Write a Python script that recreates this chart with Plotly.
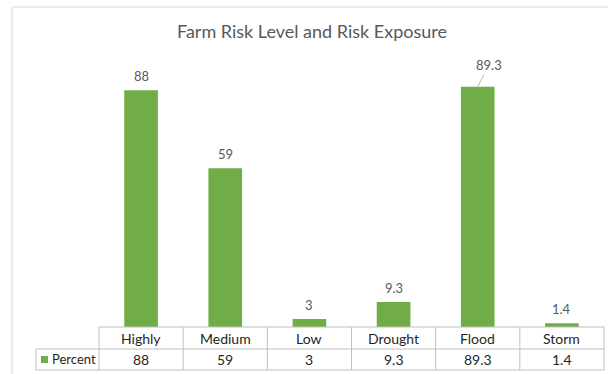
import plotly.graph_objects as go

# Chart data
categories = ["Highly", "Medium", "Low", "Drought", "Flood", "Storm"]
percent = [88, 59, 3, 9.3, 89.3, 1.4]
value_labels = ["88", "59", "3", "9.3", "89.3", "1.4"]
series_name = "Percent"
title_text = "Farm Risk Level and Risk Exposure"

W, H = 608, 374
ML, MR, MT, MB = 99, 4, 58, 47
plot_w = W - ML - MR
plot_h = H - MT - MB

GREEN = "#70AD47"
LABEL = "#595959"
GRID = "#BFBFBF"
BORDER = "#D9D9D9"
TEXT = "#1F1F1F"
FONT = "Lato, 'Open Sans', sans-serif"


def px_x(x):
    return (x - ML) / plot_w


def px_y(y):
    return (H - MB - y) / plot_h


fig = go.Figure()
fig.add_trace(go.Bar(
    x=categories, y=percent, name=series_name,
    marker=dict(color=GREEN, line=dict(width=0)),
    hoverinfo="x+y",
))

annotations = []
shapes = []

# Value labels above the bars; the Flood label sits off to the side with a leader line
for cat, val, lab in zip(categories, percent, value_labels):
    if cat == "Flood":
        annotations.append(dict(
            x=cat, y=val, xref="x", yref="y", text=lab, showarrow=True,
            arrowhead=0, arrowwidth=0.8, arrowcolor="#A6A6A6",
            ax=11, ay=-22, standoff=0,
            font=dict(family=FONT, size=13, color=LABEL),
        ))
    else:
        annotations.append(dict(
            x=cat, y=val, xref="x", yref="y", text=lab, showarrow=False,
            yanchor="middle", yshift=14,
            font=dict(family=FONT, size=13, color=LABEL),
        ))

# Data table rows below the axis
row1_top, row1_bot, row2_bot = 327, 349, 370
row1_mid = (row1_top + row1_bot) / 2
row2_mid = (row1_bot + row2_bot) / 2
n = len(categories)
for cat, lab in zip(categories, value_labels):
    annotations.append(dict(
        x=cat, y=px_y(row1_mid), xref="x", yref="paper", text=cat,
        showarrow=False, yanchor="middle",
        font=dict(family=FONT, size=14, color=TEXT),
    ))
    annotations.append(dict(
        x=cat, y=px_y(row2_mid), xref="x", yref="paper", text=lab,
        showarrow=False, yanchor="middle",
        font=dict(family=FONT, size=14, color=TEXT),
    ))

# Legend key cell
annotations.append(dict(
    x=px_x(50), y=px_y(row2_mid), xref="paper", yref="paper", text=series_name,
    showarrow=False, xanchor="left", yanchor="middle",
    font=dict(family=FONT, size=13, color=TEXT),
))
shapes.append(dict(
    type="rect", xref="paper", yref="paper",
    x0=px_x(41), x1=px_x(48), y0=px_y(356), y1=px_y(363),
    fillcolor=GREEN, line=dict(width=0),
))

line = dict(color=GRID, width=1)
# Horizontal table rules
shapes.append(dict(type="line", xref="paper", yref="paper",
                   x0=0, x1=1, y0=px_y(row1_top), y1=px_y(row1_top), line=line))
for yy in (row1_bot, row2_bot):
    shapes.append(dict(type="line", xref="paper", yref="paper",
                       x0=px_x(36), x1=1, y0=px_y(yy), y1=px_y(yy), line=line))
# Vertical table rules
shapes.append(dict(type="line", xref="paper", yref="paper",
                   x0=px_x(36), x1=px_x(36), y0=px_y(row1_bot), y1=px_y(row2_bot), line=line))
for k in range(n + 1):
    shapes.append(dict(type="line", xref="paper", yref="paper",
                       x0=k / n, x1=k / n, y0=px_y(row1_top), y1=px_y(row2_bot), line=line))

# Outer chart border (top and left edges)
shapes.append(dict(type="line", xref="paper", yref="paper",
                   x0=px_x(12), x1=px_x(W + 5), y0=px_y(7), y1=px_y(7),
                   line=dict(color=BORDER, width=1)))
shapes.append(dict(type="line", xref="paper", yref="paper",
                   x0=px_x(12), x1=px_x(12), y0=px_y(7), y1=px_y(H + 5),
                   line=dict(color=BORDER, width=1)))

# Title
annotations.append(dict(
    x=px_x(312), y=px_y(31), xref="paper", yref="paper", text=title_text,
    showarrow=False, xanchor="center", yanchor="middle",
    font=dict(family=FONT, size=18, color=LABEL),
))

fig.update_layout(
    width=W, height=H,
    margin=dict(l=ML, r=MR, t=MT, b=MB, pad=0),
    paper_bgcolor="white", plot_bgcolor="white",
    showlegend=False,
    bargap=0.6,
    xaxis=dict(showticklabels=False, showgrid=False, zeroline=False,
               showline=False, ticks="", range=[-0.5, n - 0.5], fixedrange=True),
    yaxis=dict(showticklabels=False, showgrid=False, zeroline=False,
               showline=False, ticks="", range=[0, 100], fixedrange=True),
    annotations=annotations,
    shapes=shapes,
)

fig.write_html("out.html", config={"displayModeBar": False})
